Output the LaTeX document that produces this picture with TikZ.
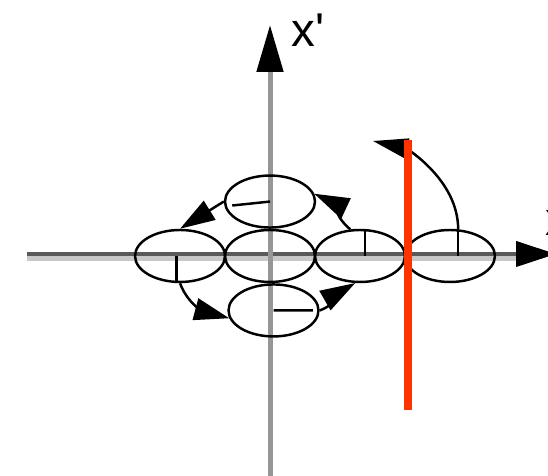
\documentclass[tikz,border=0pt]{standalone}
\usepackage{fontspec}
\setmainfont{Liberation Sans}
\usepackage{tikz}
\usetikzlibrary{shapes.geometric, arrows.meta, positioning, calc}
\definecolor{axisgray}{RGB}{150,150,150}
\definecolor{axisdark}{RGB}{90,90,90}
\definecolor{axislight}{RGB}{200,200,200}
\definecolor{cutred}{RGB}{255,51,0}
\tikzset{
  orbit/.style={ellipse, draw, minimum width=1.8cm, minimum height=1.04cm, inner sep=0pt, line width=1.4pt},
  marker/.style={line width=1.4pt},
  axisline/.style={line width=0.1cm, draw=axisgray, -{Triangle[length=0.94cm, width=0.52cm, color=black]}},
  axisdarkline/.style={line width=0.08cm, draw=axisdark, -{Triangle[length=0.8cm, width=0.5cm, color=black]}},
  axislightline/.style={line width=0.09cm, draw=axislight},
  arrow/.style={-{Triangle[length=7mm, width=4.4mm]}, line width=1.4pt},
  bigarrow/.style={-{Triangle[length=7mm, width=4mm]}, line width=1.4pt},
  cutline/.style={line width=0.16cm, draw=cutred},
  axislabel/.style={font=\fontsize{27}{30}\selectfont, inner sep=0pt},
}
\begin{document}
\begin{tikzpicture}[x=0.02cm, y=0.02cm]
\useasboundingbox (0,0) rectangle (548,476);
\clip (0,0) rectangle (548,476);
\coordinate (xs) at (27,222);
\coordinate (xe) at (556,222);
\coordinate (ys) at (270,-5);
\coordinate (ye) at (270,451);
\draw[axislightline] (27,217.5) -- (530,217.5);
\draw[axisdarkline] (xs) -- (xe);
\draw[axisline] (ys) -- (ye);
\node[axislabel, anchor=base west] (ylab) at (291,429) {x\textquotesingle};
\node[axislabel, anchor=base west] (xlab) at (545,240) {x\textquotesingle};
\node[orbit] (C) at (270,220) {};
\node[orbit, left=-1.4pt of C] (L) {};
\node[orbit, right=-1.4pt of C] (R) {};
\node[orbit, right=-1.4pt of R] (F) {};
\node[orbit, above=0pt of C] (T) {};
\node[orbit, below=0pt of C, xshift=2pt] (B) {};
\draw[marker] (T.center) -- ($(T.center)!0.83!(T.186)$);
\draw[marker] (L.263) -- (L.263 |- L.center);
\draw[marker] (R.80) -- (R.80 |- R.center);
\draw[marker] (F.73) -- (F.73 |- F.center);
\draw[marker] (B.center) -- ($(B.center)!0.85!(B.east)$);
\draw[arrow] (R.110) to[out=140, in=-25] (T.10);
\draw[arrow] (T.west) -- (L.north);
\draw[arrow] (L.south) to[out=-70, in=165] (B.190);
\draw[arrow] (B.east) to[out=20, in=-150] (R.260);
\coordinate (tip) at (373,335);
\draw[bigarrow] (F.73) .. controls +(0,50) and +(32,-7) .. (tip);
\coordinate (cuttop) at (408,336);
\coordinate (cutbot) at (408,66);
\draw[cutline] (cutbot) -- (cuttop);
\end{tikzpicture}
\end{document}
